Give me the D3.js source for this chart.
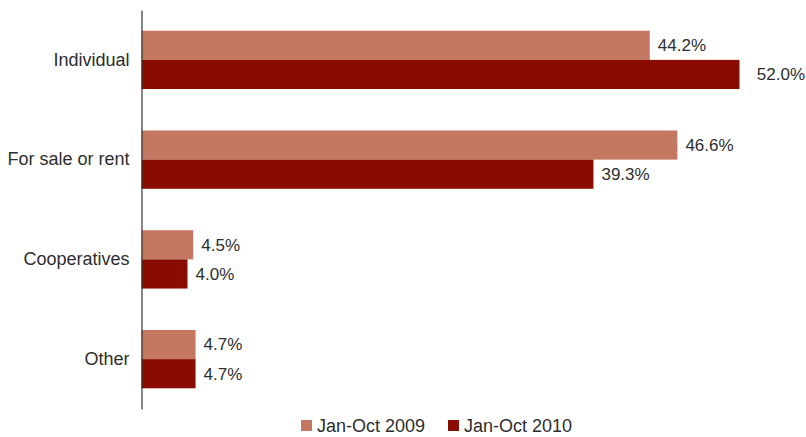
<!DOCTYPE html>
<html>
<head>
<meta charset="utf-8">
<script src="https://cdn.jsdelivr.net/npm/d3@7"></script>
<style>
  html, body { margin: 0; padding: 0; background: #fff; }
  svg { display: block; font-family: "Liberation Sans", Arial, sans-serif; }
</style>
</head>
<body>
<svg id="chart" width="806" height="437"></svg>
<script>
// Housing completions by type of builder (share, %)
const categories = ["Individual", "For sale or rent", "Cooperatives", "Other"];
const seriesNames = ["Jan-Oct 2009", "Jan-Oct 2010"];
const values2009 = [44.2, 46.6, 4.5, 4.7];
const values2010 = [52.0, 39.3, 4.0, 4.7];
const colors = ["#C47862", "#8A0C00"];

const svg = d3.select("#chart");
const textColor = "#2e2e2e";
const labelSize = 18;
const valueSize = 17;
const chartWidth = 806;

const plotLeft = 141.5, plotTop = 10, plotBottom = 409;

const x = d3.scaleLinear().domain([0, 58]).range([plotLeft, plotLeft + 667]);
const y = d3.scaleBand().domain(categories).range([plotTop, plotBottom]).paddingInner(0.415).paddingOuter(0.2075);
const sub = d3.scaleBand().domain(seriesNames).range([0, y.bandwidth()]);

const rows = categories.map((c, i) => ({
  category: c,
  values: [values2009[i], values2010[i]]
}));

const groups = svg.selectAll("g.cat")
  .data(rows)
  .join("g")
  .attr("class", "cat")
  .attr("transform", d => `translate(0,${y(d.category)})`);

groups.selectAll("rect")
  .data(d => d.values.map((v, j) => ({ v, s: seriesNames[j], j })))
  .join("rect")
  .attr("x", x(0))
  .attr("y", d => sub(d.s))
  .attr("width", d => x(d.v) - x(0))
  .attr("height", sub.bandwidth())
  .attr("fill", d => colors[d.j]);

// Value labels sit just past each bar; the widest one is kept inside the frame
groups.selectAll("text.val")
  .data(d => d.values.map((v, j) => ({ v, s: seriesNames[j], j })))
  .join("text")
  .attr("class", "val")
  .attr("y", d => sub(d.s) + sub.bandwidth() / 2)
  .attr("dy", "0.35em")
  .attr("fill", textColor)
  .attr("font-size", valueSize)
  .text(d => d.v.toFixed(1) + "%")
  .each(function (d) {
    const w = this.getComputedTextLength();
    const pos = Math.max(x(d.v) + 8, chartWidth - 1 - w);
    d3.select(this).attr("x", d.v === d3.max(values2010.concat(values2009)) ? pos : x(d.v) + 8);
  });

// Category axis
const yAxis = d3.axisLeft(y).tickSize(0).tickPadding(12);
const ag = svg.append("g")
  .attr("transform", `translate(${plotLeft},0)`)
  .call(yAxis);
ag.select(".domain").attr("stroke", "#333").attr("stroke-width", 1.2);
ag.selectAll("text").attr("font-size", labelSize).attr("fill", textColor)
  .attr("font-family", "Liberation Sans, Arial, sans-serif");

// Legend
const legendX = [301, 448];
const legend = svg.append("g");
seriesNames.forEach((name, i) => {
  legend.append("rect")
    .attr("x", legendX[i]).attr("y", 420)
    .attr("width", 11).attr("height", 11)
    .attr("fill", colors[i]);
  legend.append("text")
    .attr("x", legendX[i] + 16).attr("y", 425.5)
    .attr("dy", "0.35em")
    .attr("font-size", labelSize)
    .attr("fill", textColor)
    .text(name);
});
</script>
</body>
</html>
